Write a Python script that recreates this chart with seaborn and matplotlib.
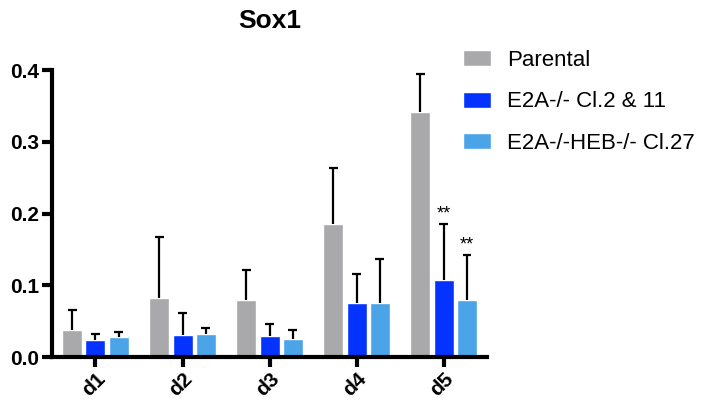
import matplotlib
matplotlib.use('Agg')
import matplotlib.pyplot as plt
import seaborn as sns
import pandas as pd
import numpy as np

days = ['d1', 'd2', 'd3', 'd4', 'd5']
groups = ['Parental', 'E2A-/- Cl.2 & 11', 'E2A-/-HEB-/- Cl.27']
colors = ['#A9A9AB', '#0433FF', '#4BA3E8']

parental = [0.038, 0.083, 0.079, 0.185, 0.341]
e2a = [0.024, 0.031, 0.029, 0.076, 0.107]
e2a_heb = [0.028, 0.032, 0.025, 0.075, 0.079]

parental_err = [0.027, 0.085, 0.043, 0.078, 0.054]
e2a_err = [0.008, 0.030, 0.017, 0.040, 0.078]
e2a_heb_err = [0.007, 0.009, 0.013, 0.061, 0.063]

stars = [['', '', '', '', ''], ['', '', '', '', '**'], ['', '', '', '', '**']]

sns.set_style('white')
plt.rcParams['font.family'] = ['Liberation Sans', 'DejaVu Sans']
plt.rcParams['text.color'] = 'black'
plt.rcParams['xtick.color'] = 'black'
plt.rcParams['ytick.color'] = 'black'

df = pd.DataFrame({
    'day': days * 3,
    'group': np.repeat(groups, len(days)),
    'value': parental + e2a + e2a_heb,
})
errs = [parental_err, e2a_err, e2a_heb_err]
means = [parental, e2a, e2a_heb]

fig = plt.figure(figsize=(7.02, 4.03), dpi=100)
ax = fig.add_axes([0.074, 0.114, 0.620, 0.712])

sns.barplot(data=df, x='day', y='value', hue='group', palette=colors,
            errorbar=None, width=0.8, gap=0.14, saturation=1, ax=ax)

# upper-only error bars + significance stars, placed on the drawn bars
bar_conts = list(ax.containers)
cap = 0.05
for gi, cont in enumerate(bar_conts):
    xs = np.array([p.get_x() + p.get_width() / 2 for p in cont.patches])
    tops = np.array(means[gi]) + np.array(errs[gi])
    ax.vlines(xs, means[gi], tops, color='black', lw=1.6, zorder=3)
    ax.hlines(tops, xs - cap, xs + cap, color='black', lw=1.6, zorder=3)
    for x, t, s in zip(xs, tops, stars[gi]):
        if s:
            ax.text(x, t + 0.003, s, ha='center', va='bottom', fontsize=13,
                    color='black')

ax.set_xlim(-0.5, 4.5)
ax.set_ylim(0, 0.4)
ax.set_yticks([0, 0.1, 0.2, 0.3, 0.4])
ax.set_yticklabels(['0.0', '0.1', '0.2', '0.3', '0.4'])
ax.set_xlabel('')
ax.set_ylabel('')
ax.set_title('Sox1', fontsize=19, fontweight='bold', pad=30, color='black')

for side in ['top', 'right']:
    ax.spines[side].set_visible(False)
for side in ['left', 'bottom']:
    ax.spines[side].set_linewidth(3)
    ax.spines[side].set_color('black')
ax.tick_params(axis='both', direction='out', length=7, width=3, color='black',
               labelcolor='black', labelsize=15, left=True, bottom=True, pad=2)
for lab in ax.get_yticklabels():
    lab.set_fontweight('bold')
for lab in ax.get_xticklabels():
    lab.set_fontweight('bold')
    lab.set_rotation(45)
    lab.set_ha('right')
    lab.set_rotation_mode('anchor')

leg = ax.legend(loc='upper left', bbox_to_anchor=(463 / 702, 1 - 50 / 403),
                bbox_transform=fig.transFigure, frameon=False,
                fontsize=16, handlelength=1.26, handleheight=0.72,
                labelspacing=0.92, handletextpad=0.72, borderpad=0,
                borderaxespad=0)
for t in leg.get_texts():
    t.set_color('black')

fig.savefig('out.png', dpi=100)
